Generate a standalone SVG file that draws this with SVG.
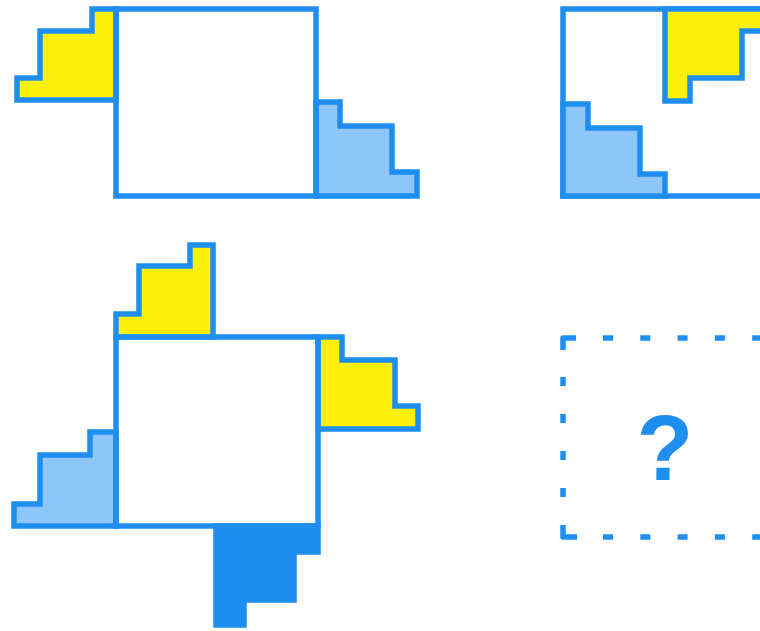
<svg xmlns="http://www.w3.org/2000/svg" width="760" height="631" viewBox="0 0 760 631">
<style>
.sq{fill:#ffffff;stroke:#1f8ef1;stroke-width:5.5;stroke-linejoin:miter}
.y{fill:#fff00a;stroke:#1f8ef1;stroke-width:5.5;stroke-linejoin:miter}
.lb{fill:#8dc7f9;stroke:#1f8ef1;stroke-width:5.5;stroke-linejoin:miter}
.db{fill:#1f8ef1;stroke:#1f8ef1;stroke-width:5.5;stroke-linejoin:miter}
.dash{fill:none;stroke:#1f8ef1;stroke-width:5.5}
.corner{fill:none;stroke:#1f8ef1;stroke-width:5.5;stroke-linejoin:round;stroke-linecap:butt}
</style>
<rect width="760" height="631" fill="#ffffff"/>
<g id="panel1">
  <path class="y" d="M116,9 L92,9 L92,31 L40,31 L40,78 L17,78 L17,100 L116,100 Z"/>
  <path class="lb" d="M316,102 L340,102 L340,126 L392,126 L392,172 L417,172 L417,196 L316,196 Z"/>
  <rect class="sq" x="116" y="9" width="200" height="187" fill="none" style="fill:none"/>
</g>
<g id="panel2">
  <rect class="sq" x="563" y="9" width="240" height="187"/>
  <path class="y" d="M665,9 L665,101 L690,101 L690,78 L742,78 L742,31 L800,31 L800,9 Z"/>
  <path class="lb" d="M563,104 L588,104 L588,128 L640,128 L640,174 L665,174 L665,196 L563,196 Z"/>
</g>
<g id="panel3">
  <path class="y" d="M116,337 L116,314 L139,314 L139,266 L190,266 L190,245 L213,245 L213,337 Z"/>
  <path class="y" d="M318,337 L342,337 L342,360 L395,360 L395,406 L418,406 L418,429 L318,429 Z"/>
  <path class="lb" d="M116,432 L90,432 L90,455 L40,455 L40,504 L14,504 L14,526 L116,526 Z"/>
  <path class="db" d="M216,526 L318,526 L318,552 L294,552 L294,600 L244,600 L244,625 L216,625 Z"/>
  <rect class="sq" x="116" y="337" width="202" height="189" style="fill:none"/>
</g>
<g id="panel4">
  <path class="corner" d="M563,350 L563,338 L576,338"/>
  <path class="corner" d="M563,525 L563,537 L577,537"/>
  <path class="dash" d="M603,338 L770,338" stroke-dasharray="10 27.3"/>
  <path class="dash" d="M603,537 L770,537" stroke-dasharray="10 27.3"/>
  <path class="dash" d="M563,377 L563,500" stroke-dasharray="9 28"/>
  <text x="665" y="480" text-anchor="middle" font-family="Liberation Sans, Arial, sans-serif" font-weight="bold" font-size="93" fill="#1f8ef1">?</text>
</g>
</svg>
